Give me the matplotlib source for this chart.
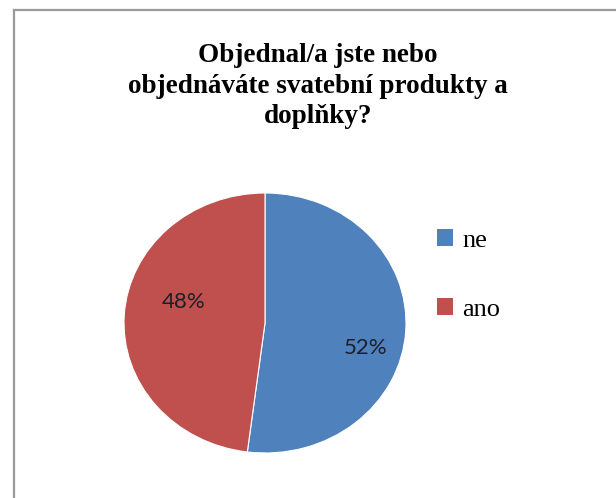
import matplotlib.pyplot as plt
from matplotlib.lines import Line2D
from matplotlib.patches import Patch

title = "Objednal/a jste nebo\nobjednáváte svatební produkty a\ndoplňky?"
labels = ["ne", "ano"]
shares = [52, 48]
colors = ["#4F81BD", "#C0504D"]

fig = plt.figure(figsize=(6.16, 4.98), dpi=100)
fig.patch.set_facecolor("white")

# chart frame (top and left edges only visible in the crop)
fig.add_artist(Line2D([14 / 616, 14 / 616], [0, 1 - 10 / 498], color="#9a9a9a", lw=1.6))
fig.add_artist(Line2D([14 / 616, 1], [1 - 10 / 498, 1 - 10 / 498], color="#9a9a9a", lw=1.6))

fig.text(318 / 616, 1 - 86 / 498, title, ha="center", va="center",
         fontsize=19.5, fontweight="bold", family="Liberation Serif",
         linespacing=1.3, color="black")

ax = fig.add_axes([124 / 616, 45 / 498, 282 / 616, 260 / 498])
wedges, texts, pcts = ax.pie(shares, colors=colors, startangle=90, counterclock=False,
                             autopct="%d%%", radius=1,
                             wedgeprops=dict(edgecolor="white", linewidth=0.8),
                             textprops=dict(fontsize=16, family="Lato", color="#1e1e28"))
ax.set_xlim(-1, 1)
ax.set_ylim(-1, 1)
ax.set_aspect("auto")
ax.axis("off")

# shift percentage labels to where they sit in the chart
pcts[0].set_position((0.71, -0.19))
pcts[1].set_position((-0.58, 0.16))

handles = [Patch(facecolor=c, edgecolor="none") for c in colors]
fig.legend(handles, labels, loc="upper left", bbox_to_anchor=(424 / 616, 1 - 216 / 498),
           frameon=False, prop=dict(family="Liberation Serif", size=19),
           handlelength=0.6, handleheight=0.6, handletextpad=0.35,
           labelspacing=1.75, borderpad=0)

fig.savefig("out.png", dpi=100, facecolor="white")
